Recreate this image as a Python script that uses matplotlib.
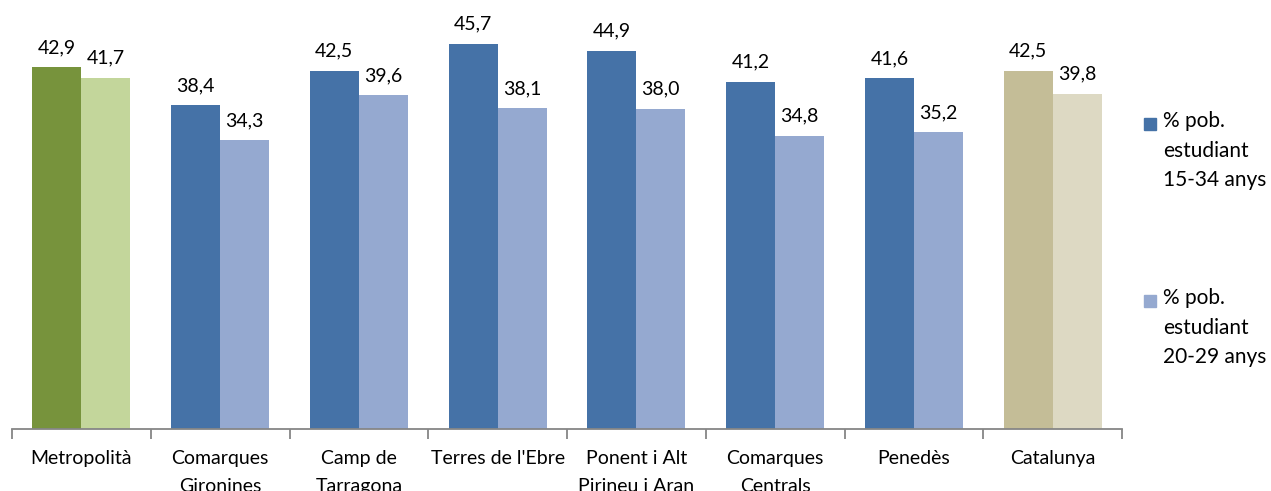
import matplotlib.pyplot as plt
import matplotlib.patches as mpatches
import numpy as np

plt.rcParams['font.family'] = ['Lato', 'DejaVu Sans']

categories = ["Metropolità", "Comarques\nGironines", "Camp de\nTarragona",
              "Terres de l'Ebre", "Ponent i Alt\nPirineu i Aran",
              "Comarques\nCentrals", "Penedès", "Catalunya"]
pob_15_34 = [42.9, 38.4, 42.5, 45.7, 44.9, 41.2, 41.6, 42.5]
pob_20_29 = [41.7, 34.3, 39.6, 38.1, 38.0, 34.8, 35.2, 39.8]
legend_labels = ["% pob.\nestudiant\n15-34 anys", "% pob.\nestudiant\n20-29 anys"]

dark = ["#77933C"] + ["#4572A7"] * 6 + ["#C4BD97"]
light = ["#C3D69B"] + ["#95A9D0"] * 6 + ["#DDD9C3"]

W, H = 1271, 491
fig = plt.figure(figsize=(W / 100, H / 100), dpi=100)
ax = fig.add_axes([12 / W, 62 / H, (1122 - 12) / W, 429 / H])

x = np.arange(len(categories))
bw = 0.353
b1 = ax.bar(x - bw / 2, pob_15_34, bw, color=dark, linewidth=0)
b2 = ax.bar(x + bw / 2, pob_20_29, bw, color=light, linewidth=0)

for bars, vals in ((b1, pob_15_34), (b2, pob_20_29)):
    for r, v in zip(bars, vals):
        ax.annotate(f"{v:.1f}".replace(".", ","),
                    (r.get_x() + r.get_width() / 2, v),
                    xytext=(0, 11), textcoords="offset pixels",
                    ha="center", va="bottom", fontsize=14, color="#000000")

ax.set_xlim(-0.5, len(categories) - 0.5)
ax.set_ylim(0, 50.9)
ax.set_yticks([])
for s in ("top", "right", "left"):
    ax.spines[s].set_visible(False)
ax.spines["bottom"].set_color("#868686")
ax.spines["bottom"].set_linewidth(1.3)

ax.set_xticks(x)
ax.set_xticklabels(categories, fontsize=14, linespacing=1.8)
ax.tick_params(axis="x", which="major", length=0, pad=15)
ax.set_xticks(np.arange(-0.5, len(categories)), minor=True)
ax.tick_params(axis="x", which="minor", length=7, width=1.3, color="#868686")

# legend, drawn by hand to keep the square at the first text line
for col, lab, ytop in ((dark[1], legend_labels[0], 111), (light[1], legend_labels[1], 288)):
    fig.patches.append(mpatches.Rectangle((1144 / W, 1 - (ytop + 19) / H), 12 / W, 12 / H,
                                          color=col, transform=fig.transFigure))
    fig.text(1163 / W, 1 - ytop / H, lab, fontsize=15, va="top", ha="left",
             linespacing=1.6)

fig.savefig("out.png", dpi=100)
